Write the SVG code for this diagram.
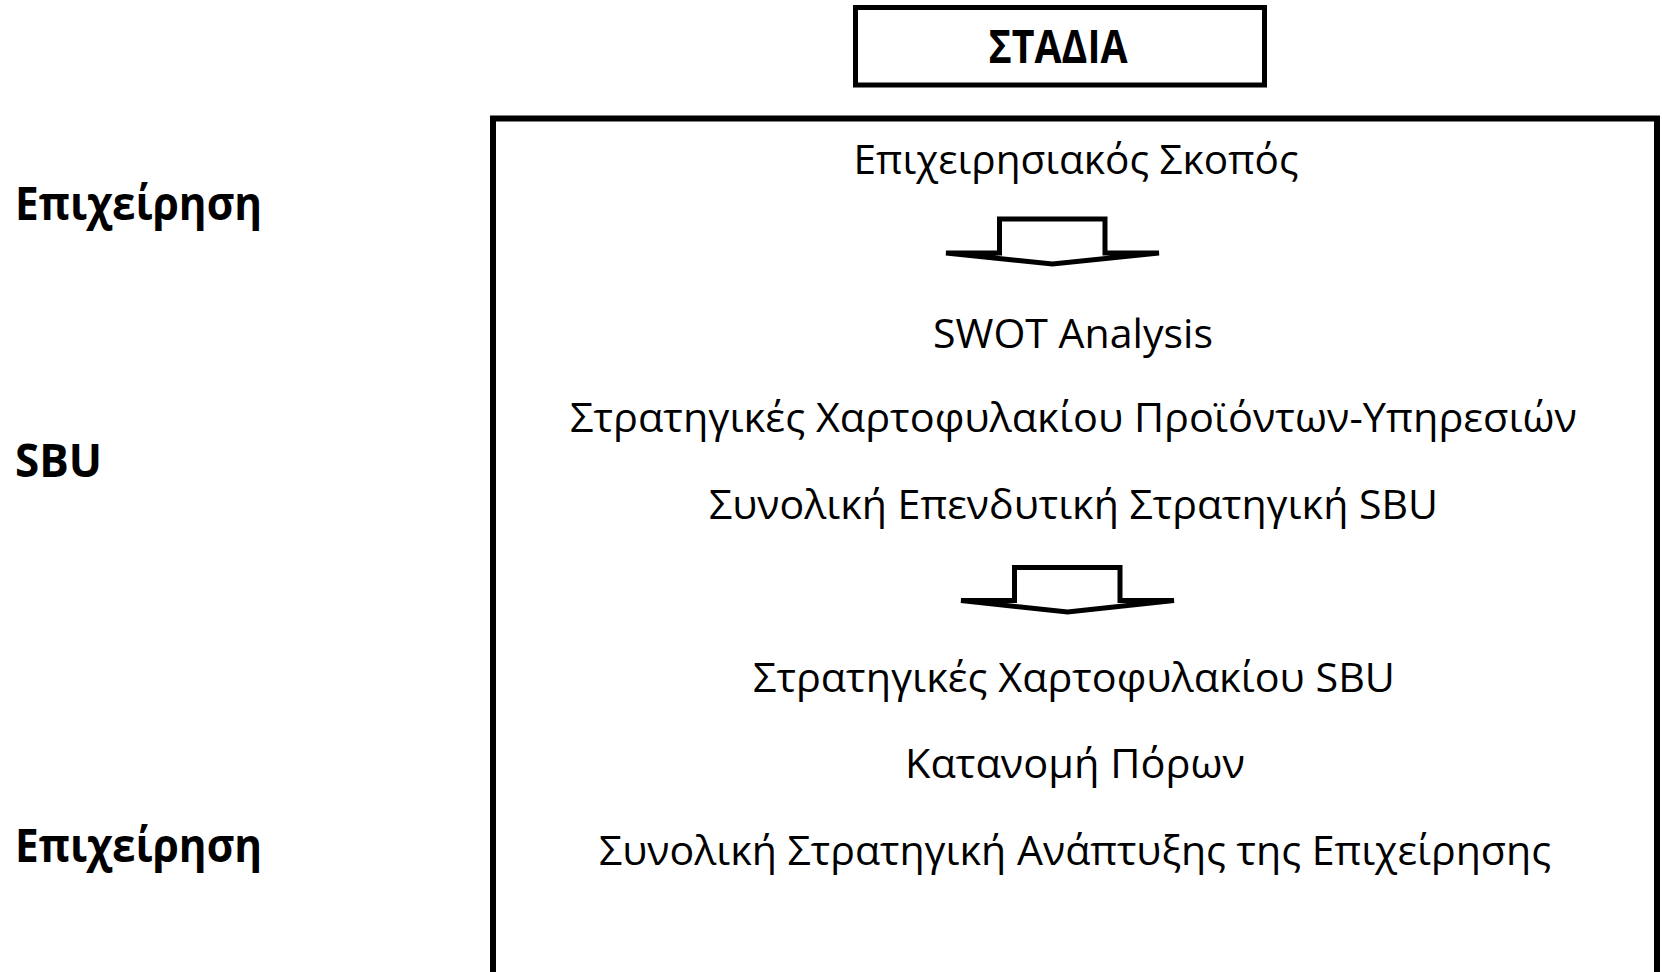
<svg xmlns="http://www.w3.org/2000/svg" width="1662" height="972" viewBox="0 0 1662 972">
<style>
.t{font-family:"Open Sans","Noto Sans","Liberation Sans",sans-serif;font-size:41px;fill:#000;text-anchor:middle}
.b{font-family:"Open Sans","Noto Sans","Liberation Sans",sans-serif;font-size:46px;font-weight:bold;fill:#000}
.box{fill:#fff;stroke:#000}
.arr{fill:#fff;stroke:#000;stroke-width:5}
</style>
<rect width="1662" height="972" fill="#fff"/>
<g id="title">
<rect class="box" x="855.5" y="7.5" width="409" height="77.5" stroke-width="5"/>
<text class="b" x="1058" y="63" text-anchor="middle" font-size="44" textLength="139" lengthAdjust="spacingAndGlyphs">ΣΤΑΔΙΑ</text>
</g>
<g id="labels">
<text class="b" x="15" y="220" textLength="247" lengthAdjust="spacingAndGlyphs">Επιχείρηση</text>
<text class="b" x="15" y="477" textLength="87" lengthAdjust="spacingAndGlyphs">SBU</text>
<text class="b" x="15" y="862" textLength="247" lengthAdjust="spacingAndGlyphs">Επιχείρηση</text>
</g>
<g id="stages">
<rect class="box" x="493" y="118.5" width="1164" height="900" stroke-width="6"/>
<text class="t" x="1076" y="174" textLength="445" lengthAdjust="spacingAndGlyphs">Επιχειρησιακός Σκοπός</text>
<text class="t" x="1073" y="348" textLength="280" lengthAdjust="spacingAndGlyphs">SWOT Analysis</text>
<text class="t" x="1073.5" y="432" textLength="1007" lengthAdjust="spacingAndGlyphs">Στρατηγικές Χαρτοφυλακίου Προϊόντων-Υπηρεσιών</text>
<text class="t" x="1073.5" y="519" textLength="729" lengthAdjust="spacingAndGlyphs">Συνολική Επενδυτική Στρατηγική SBU</text>
<text class="t" x="1074" y="692" textLength="642" lengthAdjust="spacingAndGlyphs">Στρατηγικές Χαρτοφυλακίου SBU</text>
<text class="t" x="1075" y="778" textLength="340" lengthAdjust="spacingAndGlyphs">Κατανομή Πόρων</text>
<text class="t" x="1075" y="865" textLength="952" lengthAdjust="spacingAndGlyphs">Συνολική Στρατηγική Ανάπτυξης της Επιχείρησης</text>
</g>
<g id="connectors">
<polygon class="arr" points="946,253 999.5,253 999.5,219 1105,219 1105,253 1159,253 1052.5,264"/>
<polygon class="arr" points="961,600.5 1014.5,600.5 1014.5,567.5 1120,567.5 1120,600.5 1174,600.5 1067.5,612"/>
</g>
</svg>
